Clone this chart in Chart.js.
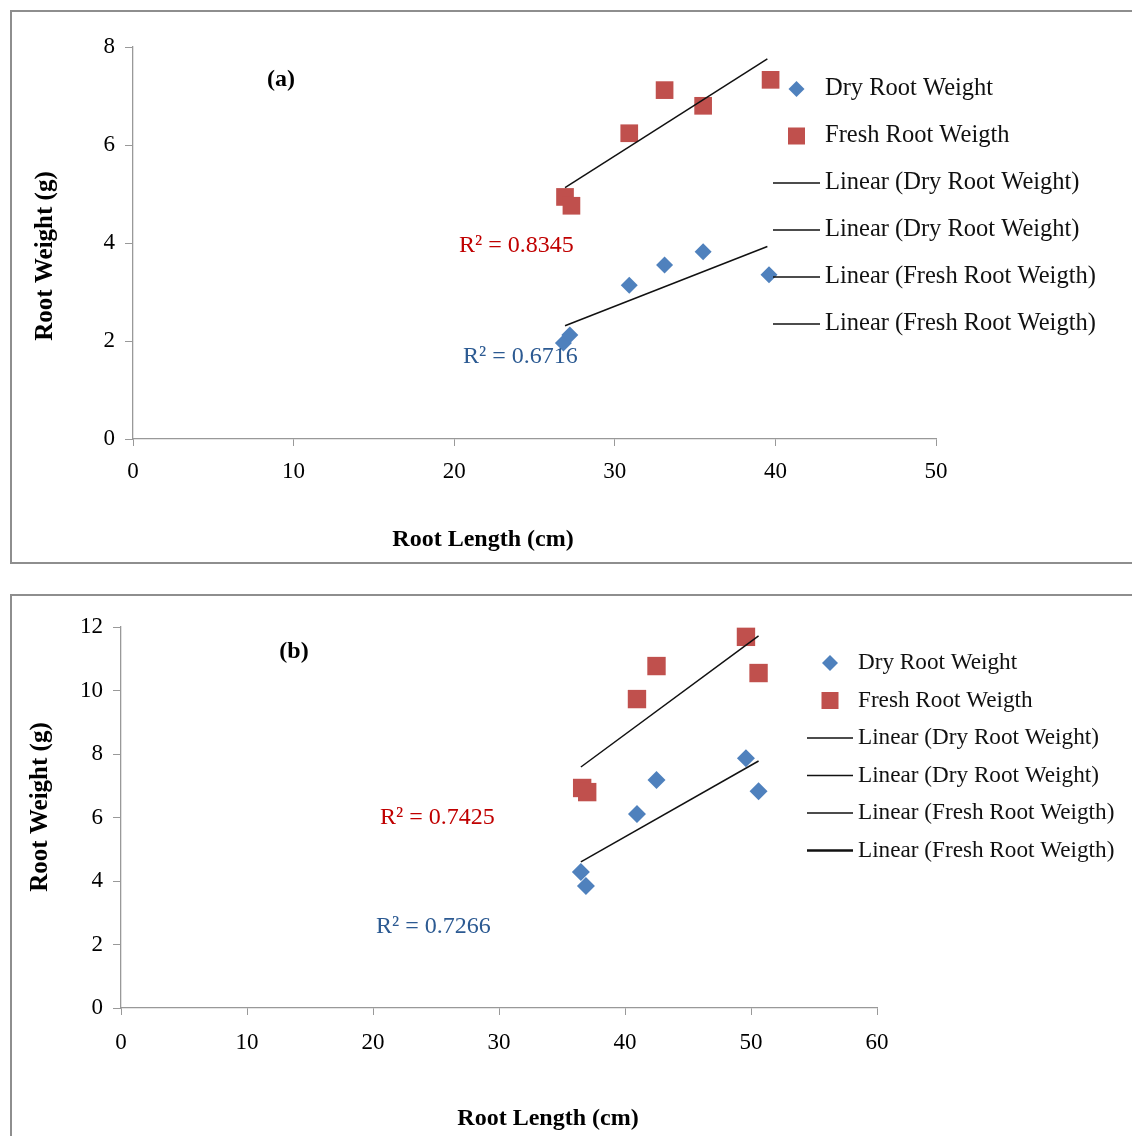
<!DOCTYPE html>
<html>
<head>
<meta charset="utf-8">
<script src="https://cdn.jsdelivr.net/npm/chart.js@4.4.0/dist/chart.umd.min.js"></script>
<style>
  html, body { margin: 0; padding: 0; background: #fff; overflow: hidden; width: 1132px; height: 1136px; }
  .frame { position: absolute; left: 10px; width: 1140px; border: 2px solid #8e8e8e; box-sizing: border-box; }
  canvas { position: absolute; left: 0; }
</style>
</head>
<body>
<div class="frame" style="top:10px;height:554px"></div>
<div class="frame" style="top:594px;height:560px"></div>
<canvas id="chartA" width="1132" height="565" style="top:0"></canvas>
<canvas id="chartB" width="1132" height="556" style="top:580px"></canvas>
<script>
// panel (a)
const dryLenA = [26.8, 27.2, 30.9, 33.1, 35.5, 39.6];
const dryWtA = [1.96, 2.12, 3.14, 3.55, 3.82, 3.35];
const freshLenA = [26.9, 27.3, 30.9, 33.1, 35.5, 39.7];
const freshWtA = [4.94, 4.76, 6.24, 7.12, 6.80, 7.33];
const dryTrendXA = [26.9, 39.5];
const dryTrendYA = [2.31, 3.93];
const freshTrendXA = [26.9, 39.5];
const freshTrendYA = [5.13, 7.76];

// panel (b)
const dryLenB = [36.5, 36.9, 40.95, 42.5, 49.6, 50.6];
const dryWtB = [4.28, 3.84, 6.11, 7.18, 7.87, 6.83];
const freshLenB = [36.6, 37.0, 40.95, 42.5, 49.6, 50.6];
const freshWtB = [6.93, 6.80, 9.73, 10.77, 11.69, 10.55];
const dryTrendXB = [36.5, 50.6];
const dryTrendYB = [4.6, 7.78];
const freshTrendXB = [36.5, 50.6];
const freshTrendYB = [7.59, 11.72];

const legendLabels = ['Dry Root Weight', 'Fresh Root Weigth', 'Linear (Dry Root Weight)',
  'Linear (Dry Root Weight)', 'Linear (Fresh Root Weigth)', 'Linear (Fresh Root Weigth)'];

const BLUE = '#4f81bd', RED = '#c0504d';
const SERIF = '"Liberation Serif", "Times New Roman", serif';

function pts(xs, ys) {
  return xs.map((x, i) => ({x: x, y: ys[i]}));
}

// draws axis titles, panel tag, R² labels and the legend
const extras = {
  id: 'extras',
  afterDraw(chart, args, o) {
    const ctx = chart.ctx;
    ctx.save();
    ctx.fillStyle = '#000';
    ctx.textBaseline = 'middle';
    ctx.textAlign = 'center';
    ctx.font = 'bold 24px ' + SERIF;
    ctx.fillText('Root Length (cm)', o.xTitle[0], o.xTitle[1]);
    ctx.fillText(o.tag[2], o.tag[0], o.tag[1]);
    ctx.save();
    ctx.translate(o.yTitle[0], o.yTitle[1]);
    ctx.rotate(-Math.PI / 2);
    ctx.font = 'bold 25px ' + SERIF;
    ctx.fillText('Root Weight (g)', 0, 0);
    ctx.restore();

    ctx.textAlign = 'left';
    ctx.font = '24px ' + SERIF;
    ctx.fillStyle = '#c00000';
    ctx.fillText(o.r2Fresh[2], o.r2Fresh[0], o.r2Fresh[1]);
    ctx.fillStyle = '#2c5a92';
    ctx.fillText(o.r2Dry[2], o.r2Dry[0], o.r2Dry[1]);

    // legend
    const lg = o.legend;
    legendLabels.forEach((txt, i) => {
      const y = lg.y + i * lg.step;
      const cx = lg.x + lg.w / 2;
      if (i === 0) {
        ctx.fillStyle = BLUE;
        ctx.beginPath();
        ctx.moveTo(cx, y - 8); ctx.lineTo(cx + 8, y); ctx.lineTo(cx, y + 8); ctx.lineTo(cx - 8, y);
        ctx.closePath(); ctx.fill();
      } else if (i === 1) {
        ctx.fillStyle = RED;
        ctx.fillRect(cx - 8.5, y - 8.5, 17, 17);
      } else {
        ctx.strokeStyle = '#111';
        ctx.lineWidth = (lg.thickLast && i === 5) ? 2.5 : 1.3;
        ctx.beginPath();
        ctx.moveTo(lg.x, y); ctx.lineTo(lg.x + lg.w, y);
        ctx.stroke();
      }
      ctx.fillStyle = '#111';
      ctx.font = lg.font + 'px ' + SERIF;
      ctx.fillText(txt, lg.x + lg.w + 5, y);
    });
    ctx.restore();
  }
};

function makeChart(id, cfg) {
  return new Chart(document.getElementById(id), {
    type: 'scatter',
    data: {
      datasets: [
        {label: 'Dry Root Weight', data: pts(cfg.dryX, cfg.dryY), pointStyle: 'rectRot',
          pointRadius: cfg.diamondR, backgroundColor: BLUE, borderColor: BLUE, borderWidth: 0, order: 2},
        {label: 'Fresh Root Weigth', data: pts(cfg.freshX, cfg.freshY), pointStyle: 'rect',
          pointRadius: cfg.squareR, backgroundColor: RED, borderColor: RED, borderWidth: 0, order: 2},
        {label: 'Linear (Dry Root Weight)', data: pts(cfg.dryTX, cfg.dryTY), showLine: true,
          pointRadius: 0, borderColor: '#111', borderWidth: 1.5, order: 1},
        {label: 'Linear (Fresh Root Weigth)', data: pts(cfg.freshTX, cfg.freshTY), showLine: true,
          pointRadius: 0, borderColor: '#111', borderWidth: 1.5, order: 1}
      ]
    },
    options: {
      responsive: false,
      animation: false,
      layout: {padding: {top: cfg.padTop, right: cfg.padRight, left: 0, bottom: 0}},
      plugins: {legend: {display: false}, tooltip: {enabled: false}, extras: cfg.extras},
      scales: {
        x: {
          type: 'linear', min: 0, max: cfg.xMax,
          afterFit: s => { s.height = cfg.xAxisH; },
          ticks: {stepSize: 10, color: '#000', padding: cfg.xTickPad, font: {family: SERIF, size: 23}},
          grid: {display: true, drawOnChartArea: false, drawTicks: true, tickLength: 7, color: '#999'},
          border: {color: '#999', width: 1.3}
        },
        y: {
          type: 'linear', min: 0, max: cfg.yMax,
          afterFit: s => { s.width = cfg.yAxisW; },
          ticks: {stepSize: 2, color: '#000', padding: 10, font: {family: SERIF, size: 23}},
          grid: {display: true, drawOnChartArea: false, drawTicks: true, tickLength: 8, color: '#999'},
          border: {color: '#999', width: 1.3}
        }
      }
    },
    plugins: [extras]
  });
}

makeChart('chartA', {
  dryX: dryLenA, dryY: dryWtA, freshX: freshLenA, freshY: freshWtA,
  dryTX: dryTrendXA, dryTY: dryTrendYA, freshTX: freshTrendXA, freshTY: freshTrendYA,
  xMax: 50, yMax: 8, diamondR: 8.5, squareR: 12.5, xTickPad: 12,
  padTop: 47, padRight: 196, xAxisH: 126, yAxisW: 133,
  extras: {
    xTitle: [483, 540], yTitle: [46, 256], tag: [281, 80, '(a)'],
    r2Fresh: [459, 246, 'R² = 0.8345'], r2Dry: [463, 357, 'R² = 0.6716'],
    legend: {x: 773, w: 47, y: 89, step: 47, font: 24.5, thickLast: false}
  }
});

makeChart('chartB', {
  dryX: dryLenB, dryY: dryWtB, freshX: freshLenB, freshY: freshWtB,
  dryTX: dryTrendXB, dryTY: dryTrendYB, freshTX: freshTrendXB, freshTY: freshTrendYB,
  xMax: 60, yMax: 12, diamondR: 9, squareR: 13, xTickPad: 14,
  padTop: 47, padRight: 255, xAxisH: 128, yAxisW: 121,
  extras: {
    xTitle: [548, 539], yTitle: [41, 227], tag: [294, 72, '(b)'],
    r2Fresh: [380, 238, 'R² = 0.7425'], r2Dry: [376, 347, 'R² = 0.7266'],
    legend: {x: 807, w: 46, y: 83, step: 37.5, font: 23.2, thickLast: true}
  }
});
</script>
</body>
</html>
